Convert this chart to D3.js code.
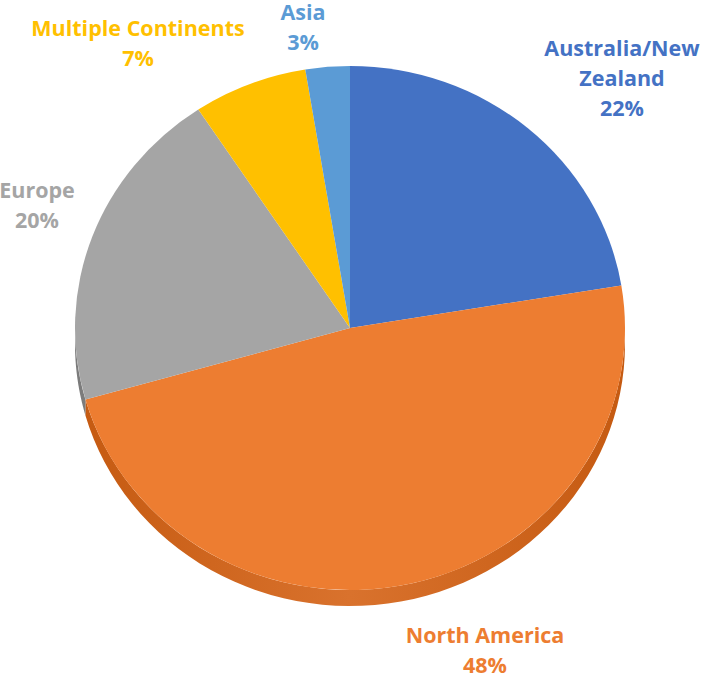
<!DOCTYPE html>
<html>
<head>
<meta charset="utf-8">
<script src="https://cdn.jsdelivr.net/npm/d3@7"></script>
<style>
  body { margin: 0; background: #fff; }
  text { font-family: "Open Sans", Lato, sans-serif; font-weight: bold; }
</style>
</head>
<body>
<div id="chart"></div>
<script>
// Chart data
const regions = ["Australia/New Zealand", "North America", "Europe", "Multiple Continents", "Asia"];
const shares = [22.4, 48.2, 20.1, 6.7, 2.6];
const colors = ["#4472C4", "#ED7D31", "#A5A5A5", "#FFC000", "#5B9BD5"];
const sideColors = ["#2f5597", "#c55a11", "#7b7b7b", "#bf9000", "#2e75b6"];
// label lines (the percent line is added from the data)
const labelLines = [["Australia/New", "Zealand"], ["North America"], ["Europe"], ["Multiple Continents"], ["Asia"]];
const labelPos = [[622, 56], [485, 643], [37, 198], [138, 36], [303, 20]];

const width = 701;
const height = 679;
const cx = 350, cy = 328;
const rx = 275, ry = 262;
const depth = 16;
const sy = ry / rx;

const svg = d3.select("#chart")
  .append("svg")
  .attr("width", width)
  .attr("height", height);

const table = regions.map((r, i) => ({ region: r, value: shares[i], i: i }));
const total = d3.sum(shares);

const pie = d3.pie()
  .sort(null)
  .value(d => d.value)
  .startAngle(0)
  .endAngle(2 * Math.PI);

const arcs = pie(table);

const arc = d3.arc().innerRadius(0).outerRadius(rx);

// gradient for side walls
const defs = svg.append("defs");
arcs.forEach(a => {
  const grad = defs.append("linearGradient")
    .attr("id", "side" + a.data.i)
    .attr("gradientUnits", "userSpaceOnUse")
    .attr("x1", -rx).attr("x2", rx).attr("y1", 0).attr("y2", 0);
  const base = d3.color(colors[a.data.i]);
  grad.append("stop").attr("offset", "0%").attr("stop-color", sideColors[a.data.i]);
  grad.append("stop").attr("offset", "50%").attr("stop-color", base.darker(0.25));
  grad.append("stop").attr("offset", "100%").attr("stop-color", sideColors[a.data.i]);
});

const g = svg.append("g")
  .attr("transform", `translate(${cx},${cy}) scale(1,${sy})`);

// side walls (only the front half, angles between 90 and 270 degrees)
function sidePath(a0, a1) {
  const lo = Math.max(a0, Math.PI / 2);
  const hi = Math.min(a1, 3 * Math.PI / 2);
  if (hi <= lo) return null;
  const n = 60;
  const pts = d3.range(n + 1).map(k => lo + (hi - lo) * k / n);
  const top = pts.map(t => [rx * Math.sin(t), -rx * Math.cos(t)]);
  const bottom = pts.slice().reverse().map(t => [rx * Math.sin(t), -rx * Math.cos(t) + depth / sy]);
  return d3.line()(top.concat(bottom)) + "Z";
}

g.selectAll("path.side")
  .data(arcs.filter(a => sidePath(a.startAngle, a.endAngle)))
  .join("path")
  .attr("class", "side")
  .attr("d", a => sidePath(a.startAngle, a.endAngle))
  .attr("fill", a => `url(#side${a.data.i})`);

// top face
g.selectAll("path.slice")
  .data(arcs)
  .join("path")
  .attr("class", "slice")
  .attr("d", arc)
  .attr("fill", a => colors[a.data.i]);

// labels
const fmt = d3.format(".0%");
const labels = svg.append("g")
  .selectAll("text")
  .data(arcs)
  .join("text")
  .attr("text-anchor", "middle")
  .attr("font-size", 21.5)
  .attr("fill", a => colors[a.data.i])
  .attr("x", a => labelPos[a.data.i][0])
  .attr("y", a => labelPos[a.data.i][1]);

labels.each(function (a) {
  const t = d3.select(this);
  const lines = labelLines[a.data.i].concat([fmt(a.data.value / total)]);
  lines.forEach((line, k) => {
    t.append("tspan")
      .attr("x", labelPos[a.data.i][0])
      .attr("dy", k === 0 ? 0 : 30)
      .text(line);
  });
});
</script>
</body>
</html>
